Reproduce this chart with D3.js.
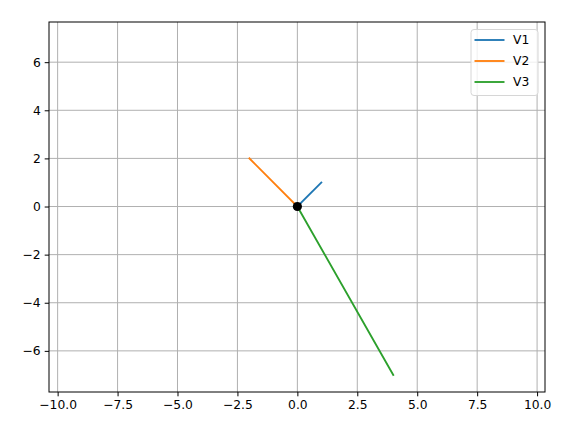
<!DOCTYPE html>
<html>
<head>
<meta charset="utf-8">
<script src="https://cdn.jsdelivr.net/npm/d3@7"></script>
<style>
  body { margin: 0; background: #fff; }
  text { font-family: "DejaVu Sans", sans-serif; }
</style>
</head>
<body>
<div id="chart"></div>
<script>
// vectors drawn from the origin
const names = ["V1", "V2", "V3"];
const vx = [1, -2, 4];
const vy = [1, 2, -7];
const colors = ["#1f77b4", "#ff7f0e", "#2ca02c"];
const xTicks = [-10, -7.5, -5, -2.5, 0, 2.5, 5, 7.5, 10];
const yTicks = [-6, -4, -2, 0, 2, 4, 6];

const width = 569, height = 427;
const margin = { left: 49, right: 24, top: 22, bottom: 35 };

const x = d3.scaleLinear()
  .domain([-10.36, 10.33])
  .range([margin.left, width - margin.right]);
const y = d3.scaleLinear()
  .domain([-7.71, 7.67])
  .range([height - margin.bottom, margin.top]);

const svg = d3.select("#chart").append("svg")
  .attr("width", width)
  .attr("height", height);

// grid
svg.append("g").selectAll("line")
  .data(xTicks)
  .enter().append("line")
  .attr("x1", d => x(d)).attr("x2", d => x(d))
  .attr("y1", margin.top).attr("y2", height - margin.bottom)
  .attr("stroke", "#b0b0b0").attr("stroke-width", 1);
svg.append("g").selectAll("line")
  .data(yTicks)
  .enter().append("line")
  .attr("y1", d => y(d)).attr("y2", d => y(d))
  .attr("x1", margin.left).attr("x2", width - margin.right)
  .attr("stroke", "#b0b0b0").attr("stroke-width", 1);

const fmt = d => (d < 0 ? "\u2212" : "") + Math.abs(d);
const fmtX = d => (d < 0 ? "\u2212" : "") + Math.abs(d).toFixed(1);

const xAxis = svg.append("g")
  .attr("transform", `translate(0,${height - margin.bottom})`)
  .call(d3.axisBottom(x).tickValues(xTicks).tickFormat(fmtX).tickSizeOuter(0).tickSize(4.3).tickPadding(4));
const yAxis = svg.append("g")
  .attr("transform", `translate(${margin.left},0)`)
  .call(d3.axisLeft(y).tickValues(yTicks).tickFormat(fmt).tickSizeOuter(0).tickSize(4.3).tickPadding(4));
[xAxis, yAxis].forEach(a => {
  a.select(".domain").remove();
  a.selectAll("text").attr("font-size", 12.3).attr("fill", "#000")
    .style("font-family", "DejaVu Sans");
  a.selectAll(".tick line").attr("stroke", "#000").attr("stroke-width", 1);
});

// vectors
svg.append("g").selectAll("line")
  .data(names)
  .enter().append("line")
  .attr("x1", x(0)).attr("y1", y(0))
  .attr("x2", (d, i) => x(vx[i]))
  .attr("y2", (d, i) => y(vy[i]))
  .attr("stroke", (d, i) => colors[i])
  .attr("stroke-width", 1.85)
  .attr("stroke-linecap", "square");

// origin point
svg.append("circle")
  .attr("cx", x(0)).attr("cy", y(0))
  .attr("r", 4.6)
  .attr("fill", "#000");

// frame
svg.append("rect")
  .attr("x", margin.left).attr("y", margin.top)
  .attr("width", width - margin.left - margin.right)
  .attr("height", height - margin.top - margin.bottom)
  .attr("fill", "none").attr("stroke", "#000").attr("stroke-width", 1);

// legend
const lg = svg.append("g").attr("transform", "translate(471,29.5)");
lg.append("rect")
  .attr("width", 67).attr("height", 66).attr("rx", 3)
  .attr("fill", "#fff").attr("fill-opacity", 0.8)
  .attr("stroke", "#d6d6d6").attr("stroke-width", 1);
names.forEach((n, i) => {
  const yy = 10.5 + i * 21;
  lg.append("line")
    .attr("x1", 3.5).attr("x2", 33.5)
    .attr("y1", yy).attr("y2", yy)
    .attr("stroke", colors[i]).attr("stroke-width", 1.85);
  lg.append("text")
    .attr("x", 42).attr("y", yy + 4.4)
    .attr("font-size", 12.3)
    .text(n);
});
</script>
</body>
</html>
